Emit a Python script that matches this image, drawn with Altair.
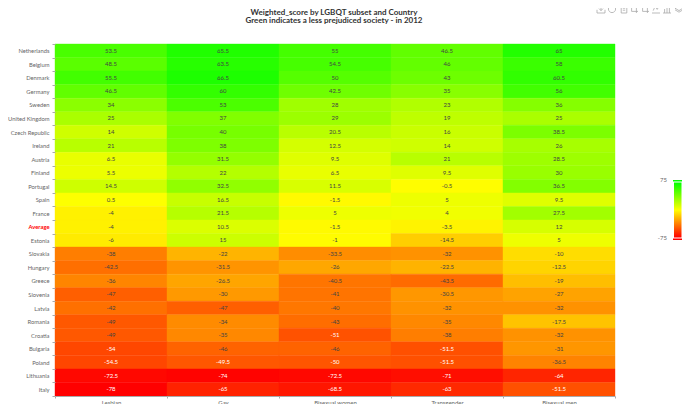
import altair as alt
import pandas as pd

countries = ["Netherlands","Belgium","Denmark","Germany","Sweden","United Kingdom","Czech Republic","Ireland","Austria","Finland","Portugal","Spain","France","Average","Estonia","Slovakia","Hungary","Greece","Slovenia","Latvia","Romania","Croatia","Bulgaria","Poland","Lithuania","Italy"]
subsets = ["Lesbian","Gay","Bisexual women","Transgender","Bisexual men"]
lesbian = [53.5,48.5,55.5,46.5,34,25,14,21,6.5,5.5,14.5,0.5,-4,-4,-6,-38,-42.5,-36,-47,-42,-49,-49,-54,-54.5,-72.5,-78]
gay = [65.5,63.5,66.5,60,53,37,40,38,31.5,22,32.5,16.5,21.5,10.5,15,-22,-31.5,-26.5,-30,-47,-34,-35,-46,-49.5,-74,-65]
bi_women = [55,54.5,50,42.5,28,29,20.5,12.5,9.5,6.5,11.5,-1.5,5,-1.5,-1,-33.5,-26,-40.5,-41,-40,-43,-51,-46,-50,-72.5,-68.5]
transgender = [46.5,46,43,35,23,19,16,14,21,9.5,-0.5,5,4,-3.5,-14.5,-32,-22.5,-43.5,-30.5,-32,-35,-38,-51.5,-51.5,-71,-63]
bi_men = [65,58,60.5,56,36,25,38.5,26,28.5,30,36.5,9.5,27.5,12,5,-10,-12.5,-19,-27,-32,-17.5,-32,-31,-36.5,-64,-51.5]
title_lines = ["Weighted_score by LGBQT subset and Country","Green indicates a less prejudiced society - in 2012"]
legend_ticks = ["75","-75"]

rows = []
for s, vals in zip(subsets, [lesbian, gay, bi_women, transgender, bi_men]):
    for c, v in zip(countries, vals):
        rows.append({"country": c, "subset": s, "score": v, "label": f"{v:g}"})
df = pd.DataFrame(rows)

FONT = "Lato"
color_scale = alt.Scale(domain=[-75, 0, 75], range=["#ff0000", "#ffff00", "#00ff00"], clamp=True, interpolate="rgb")
x = alt.X("subset:N", sort=subsets, title=None, scale=alt.Scale(paddingInner=0, paddingOuter=0),
          axis=alt.Axis(labelAngle=0, labelFontSize=6, labelColor="#666", labelFont=FONT, tickColor="#aaa", tickSize=2,
                        domainColor="#aaa", domainWidth=1, tickBand="extent", grid=False, labelPadding=1))
y = alt.Y("country:N", sort=countries, title=None, scale=alt.Scale(paddingInner=0, paddingOuter=0),
          axis=alt.Axis(labelFontSize=5.8, labelFont=FONT, tickColor="#aaa", tickSize=3, domain=False,
                        tickBand="extent", grid=False, labelPadding=3,
                        labelColor=alt.condition(alt.datum.value == "Average", alt.value("#ff0000"), alt.value("#666")),
                        labelFontWeight=alt.condition(alt.datum.value == "Average", alt.value("bold"), alt.value("normal"))))

rect = alt.Chart(df).mark_rect(strokeWidth=0.4).encode(
    x=x, y=y,
    color=alt.Color("score:Q", legend=None, scale=color_scale),
    stroke=alt.Stroke("score:Q", legend=None, scale=color_scale),
)
text = alt.Chart(df).mark_text(fontSize=6, font=FONT).encode(
    x=alt.X("subset:N", sort=subsets), y=alt.Y("country:N", sort=countries), text="label:N",
    color=alt.condition(alt.datum.score <= -49.5, alt.value("#ffffff"), alt.value("#444444")),
)

# two-line title, placed in pixels relative to the plot area
title_a = alt.Chart(pd.DataFrame({"k": [0]})).mark_text(fontSize=8, font=FONT, fontWeight="bold", color="#333", align="center",
                          text=title_lines[0]).encode(x=alt.value(279), y=alt.value(-31.5))
title_b = alt.Chart(pd.DataFrame({"k": [0]})).mark_text(fontSize=8, font=FONT, fontWeight="bold", color="#333", align="center",
                          text=title_lines[1]).encode(x=alt.value(279), y=alt.value(-23))

# visual-map legend, in pixels relative to the plot area
gradient = alt.Gradient(gradient="linear", x1=0, y1=0, x2=0, y2=1,
                        stops=[alt.GradientStop(color="#00ff00", offset=0),
                               alt.GradientStop(color="#ffff00", offset=0.5),
                               alt.GradientStop(color="#ff0000", offset=1)])
one = pd.DataFrame({"k": [0]})
vm_bar = alt.Chart(one).mark_rect(color=gradient).encode(x=alt.value(619), x2=alt.value(626.5), y=alt.value(138.5), y2=alt.value(193.5))
vm_top = alt.Chart(one).mark_rect(color="#00ff00").encode(x=alt.value(618), x2=alt.value(627), y=alt.value(136), y2=alt.value(137.5))
vm_bot = alt.Chart(one).mark_rect(color="#ff0000").encode(x=alt.value(618), x2=alt.value(627), y=alt.value(194.5), y2=alt.value(196))
vm_hi = alt.Chart(one).mark_text(fontSize=6, font=FONT, color="#666", align="right", text=legend_ticks[0]).encode(x=alt.value(612), y=alt.value(136))
vm_lo = alt.Chart(one).mark_text(fontSize=6, font=FONT, color="#666", align="right", text=legend_ticks[1]).encode(x=alt.value(612), y=alt.value(194))

# toolbox icons along the top right
icons = [
    (546, "M-.5 .1V.5H.5V.1M0 -.5V.2M-.25 -.05L0 .2L.25 -.05"),
    (557, "M-.45 0A.45 .45 0 1 1 0 .45A.45 .45 0 0 1 -.45 0"),
    (569, "M-.35 -.5H.15L.35 -.3V.5H-.35ZM-.15 -.1H.15M-.15 .15H.15"),
    (579, "M-.3 -.5V.3H.5M-.5 -.3H.3V.5"),
    (590, "M-.3 -.5V.3H.5M-.5 -.3H.3V.5"),
    (601, "M-.5 .5H.5M-.35 .2L-.1 -.35L.15 .05L.4 -.4"),
    (612, "M-.5 .5H.5M-.3 .5V0M0 .5V-.3M.3 .5V-.5"),
    (624, "M-.5 -.1L0 -.4L.5 -.1L0 .2ZM-.5 .1L0 .4L.5 .1"),
]
icon_layers = [
    alt.Chart(one).mark_point(shape=p, size=256, filled=False, stroke="#aaa", strokeWidth=0.8, opacity=1)
    .encode(x=alt.value(px), y=alt.value(-35))
    for px, p in icons
]

chart = alt.layer(rect, text, title_a, title_b, vm_bar, vm_top, vm_bot, vm_hi, vm_lo, *icon_layers).properties(
    width=560, height=352,
    autosize=alt.AutoSizeParams(type="none"),
    padding={"left": 47, "top": 36, "right": 67, "bottom": 8},
).configure_view(stroke=None)

chart.save("out.html", embed_options={"renderer": "svg", "actions": False})
